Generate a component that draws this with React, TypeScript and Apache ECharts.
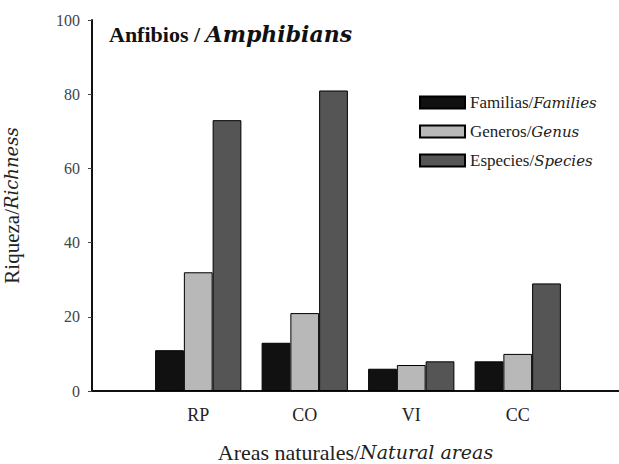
import React, { useEffect, useRef } from "react";
import * as echarts from "echarts";

const categories = ["RP", "CO", "VI", "CC"];
const familias = [11, 13, 6, 8];
const generos = [32, 21, 7, 10];
const especies = [73, 81, 8, 29];
const yTicks = [0, 20, 40, 60, 80, 100];

const FONT = '"Liberation Serif", "Times New Roman", serif';
const IFONT = '"DejaVu Serif", serif';

export default function App() {
  const ref = useRef<HTMLDivElement>(null);
  useEffect(() => {
    if (!ref.current) return;
    const chart = echarts.init(ref.current, undefined, { renderer: "svg" });
    const barBase = {
      type: "bar" as const,
      xAxisIndex: 1,
      yAxisIndex: 1,
      barGap: "0%",
      barCategoryGap: "19%",
      itemStyle: { borderColor: "#000", borderWidth: 1 },
    };
    chart.setOption({
      animation: false,
      backgroundColor: "#fff",
      textStyle: { fontFamily: FONT },
      title: {
        text: "{a|Anfibios / }{b|Amphibians}",
        left: 104,
        top: 18,
        textStyle: {
          fontFamily: FONT,
          rich: {
            a: { fontFamily: FONT, fontSize: 22, fontWeight: "bold", color: "#111" },
            b: { fontFamily: IFONT, fontSize: 22, fontWeight: "bold", fontStyle: "italic", color: "#111" },
          },
        },
      },
      legend: {
        orient: "vertical",
        left: 414,
        top: 89,
        itemWidth: 45,
        itemHeight: 12,
        itemGap: 12,
        icon: "rect",
        data: [
          { name: "Familias", itemStyle: { color: "#111" } },
          { name: "Generos", itemStyle: { color: "#b8b8b8" } },
          { name: "Especies", itemStyle: { color: "#555" } },
        ],
        formatter: (n: string) => {
          const m: Record<string, string> = {
            Familias: "{a|Familias/}{b|Families}",
            Generos: "{a|Generos/}{b|Genus}",
            Especies: "{a|Especies/}{b|Species}",
          };
          return m[n];
        },
        textStyle: {
          fontFamily: FONT,
          rich: {
            a: { fontFamily: FONT, fontSize: 17, color: "#222" },
            b: { fontFamily: IFONT, fontSize: 15, fontStyle: "italic", color: "#222" },
          },
        },
      },
      grid: [
        { left: 92, right: 0, top: 20, bottom: 73, outerBoundsMode: "none", containLabel: false },
        { left: 145, width: 426, top: 20, bottom: 73, outerBoundsMode: "none", containLabel: false },
      ],
      xAxis: [
        {
          gridIndex: 0,
          type: "value",
          min: 0,
          max: 1,
          axisLine: { show: true, lineStyle: { color: "#111", width: 2 } },
          axisTick: { show: false },
          axisLabel: { show: false },
          splitLine: { show: false },
          name: "{a|Areas naturales/}{b|Natural areas}",
          nameLocation: "middle",
          nameGap: 50,
          nameTextStyle: {
            fontFamily: FONT,
            rich: {
              a: { fontFamily: FONT, fontSize: 22, color: "#222" },
              b: { fontFamily: IFONT, fontSize: 19, fontStyle: "italic", color: "#222" },
            },
          },
        },
        {
          gridIndex: 1,
          type: "category",
          data: categories,
          axisLine: { show: false },
          axisTick: { show: false },
          axisLabel: { fontFamily: FONT, fontSize: 18, color: "#222", margin: 15 },
        },
      ],
      yAxis: [
        {
          gridIndex: 0,
          type: "value",
          min: 0,
          max: 100,
          interval: 20,
          axisLine: { show: true, lineStyle: { color: "#111", width: 2 } },
          axisTick: { show: true, length: 4, inside: false, lineStyle: { color: "#444" } },
          axisLabel: {
            fontFamily: FONT,
            fontSize: 16,
            color: "#444",
            margin: 12,
            formatter: (v: number) => (yTicks.includes(v) ? String(v) : ""),
          },
          splitLine: { show: false },
          name: "{a|Riqueza/}{b|Richness}",
          nameLocation: "middle",
          nameGap: 70,
          nameRotate: 90,
          nameTextStyle: {
            fontFamily: FONT,
            rich: {
              a: { fontFamily: FONT, fontSize: 21, color: "#222" },
              b: { fontFamily: IFONT, fontSize: 18, fontStyle: "italic", color: "#222" },
            },
          },
        },
        {
          gridIndex: 1,
          type: "value",
          min: 0,
          max: 100,
          show: false,
          splitLine: { show: false },
        },
      ],
      series: [
        { ...barBase, name: "Familias", data: familias, itemStyle: { ...barBase.itemStyle, color: "#111" } },
        { ...barBase, name: "Generos", data: generos, itemStyle: { ...barBase.itemStyle, color: "#b8b8b8" } },
        { ...barBase, name: "Especies", data: especies, itemStyle: { ...barBase.itemStyle, color: "#555" } },
      ],
    });
    return () => chart.dispose();
  }, []);
  return <div ref={ref} style={{ width: 619, height: 464, position: "absolute", left: 0, top: 0 }} />;
}
